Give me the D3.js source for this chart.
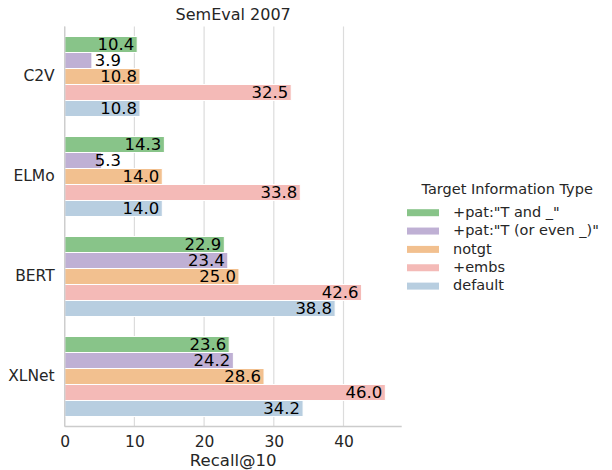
<!DOCTYPE html>
<html lang="en">
<head>
<meta charset="UTF-8">
<title>SemEval 2007</title>
<style>
    body { margin: 0; background: #fff; }
    svg text { font-family: "DejaVu Sans", sans-serif; fill: #262626; }
</style>
</head>
<body>
<svg id="chart" width="612" height="470"></svg>
<script src="https://d3js.org/d3.v7.min.js"></script>
<script>
// data
const models = ["C2V", "ELMo", "BERT", "XLNet"];
const series = ['+pat:"T and _"', '+pat:"T (or even _)"', "notgt", "+embs", "default"];
const colors = ["#88c489", "#bfb0d4", "#f2c08f", "#f4bab7", "#b8cee0"];
const patAnd   = [10.4, 14.3, 22.9, 23.6];
const patOrEven = [3.9, 5.3, 23.4, 24.2];
const notgt    = [10.8, 14.0, 25.0, 28.6];
const embs     = [32.5, 33.8, 42.6, 46.0];
const deflt    = [10.8, 14.0, 38.8, 34.2];
const xTicks = [0, 10, 20, 30, 40];

const values = [patAnd, patOrEven, notgt, embs, deflt];

const svg = d3.select("#chart");
const plotL = 64.7, plotR = 401.7, plotT = 26.5, plotB = 426.5;

const x = d3.scaleLinear().domain([0, 48.35]).range([plotL, plotR]);
const y = d3.scaleBand().domain(models).range([plotT, plotB]);
const inner = d3.scaleBand().domain(series).range([0, y.bandwidth() * 0.8]);

// grid
svg.append("g").selectAll("line").data(xTicks).join("line")
    .attr("x1", d => x(d)).attr("x2", d => x(d))
    .attr("y1", plotT).attr("y2", plotB)
    .attr("stroke", "#dcdcdc").attr("stroke-width", 1.2);

// bars
const rows = [];
models.forEach((m, i) => series.forEach((s, j) => rows.push({m, s, j, v: values[j][i]})));

const g = svg.append("g");
g.selectAll("rect").data(rows).join("rect")
    .attr("x", x(0))
    .attr("y", d => y(d.m) + y.bandwidth() * 0.1 + inner(d.s))
    .attr("width", d => x(d.v) - x(0))
    .attr("height", inner.bandwidth())
    .attr("fill", d => colors[d.j])
    .attr("stroke", "#fff").attr("stroke-width", 1);

// value labels, short bars get their label pushed right of the bar
g.selectAll("text").data(rows).join("text")
    .attr("x", d => x(Math.max(d.v, 8.5)) - 3)
    .attr("y", d => y(d.m) + y.bandwidth() * 0.1 + inner(d.s) + inner.bandwidth() / 2)
    .attr("dy", "0.36em")
    .attr("text-anchor", "end")
    .attr("font-size", "16.5px")
    .style("fill", "#000")
    .text(d => d.v.toFixed(1));

// spines
svg.append("line").attr("x1", plotL).attr("x2", plotL).attr("y1", plotT).attr("y2", plotB)
    .attr("stroke", "#cccccc").attr("stroke-width", 1.3);
svg.append("line").attr("x1", plotL).attr("x2", plotR).attr("y1", plotB).attr("y2", plotB)
    .attr("stroke", "#cccccc").attr("stroke-width", 1.3);

// axes
const xAxis = svg.append("g")
    .attr("transform", `translate(0,${plotB})`)
    .call(d3.axisBottom(x).tickValues(xTicks).tickSize(0).tickPadding(9));
xAxis.select(".domain").remove();
xAxis.selectAll("text").attr("font-size", "15.5px").attr("font-family", null);

const yAxis = svg.append("g")
    .attr("transform", `translate(${plotL},0)`)
    .call(d3.axisLeft(y).tickSize(0).tickPadding(10));
yAxis.select(".domain").remove();
yAxis.selectAll("text").attr("font-size", "15.5px").attr("font-family", null);

svg.append("text").attr("x", (plotL + plotR) / 2).attr("y", 466)
    .attr("text-anchor", "middle").attr("font-size", "16.5px").text("Recall@10");

svg.append("text").attr("x", (plotL + plotR) / 2).attr("y", 20)
    .attr("text-anchor", "middle").attr("font-size", "16px").text("SemEval 2007");

// legend
const leg = svg.append("g");
leg.append("text").attr("x", 421.5).attr("y", 188.5).attr("dy", "0.36em")
    .attr("font-size", "14.5px").text("Target Information Type");
const items = leg.selectAll("g.item").data(series).join("g")
    .attr("class", "item")
    .attr("transform", (d, i) => `translate(0,${211.7 + i * 18.35})`);
items.append("rect").attr("x", 407).attr("y", -2.5).attr("width", 32).attr("height", 7)
    .attr("fill", (d, i) => colors[i]);
items.append("text").attr("x", 453).attr("dy", "0.36em")
    .attr("font-size", "14.5px").text(d => d);
</script>
</body>
</html>
